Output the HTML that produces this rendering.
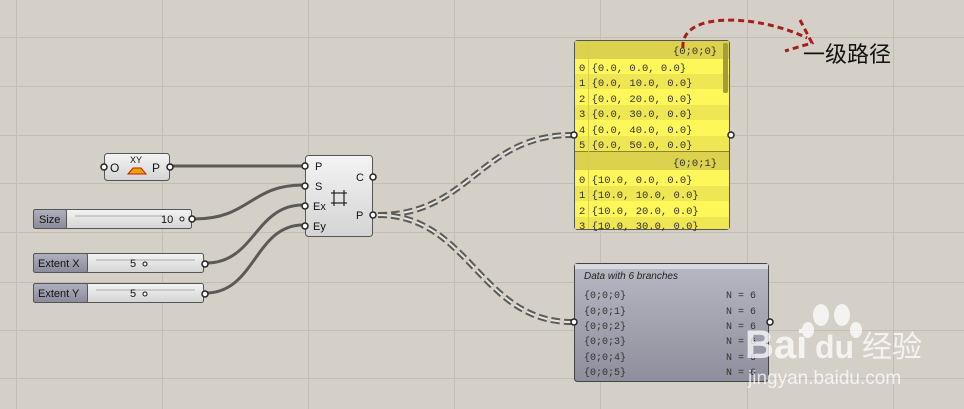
<!DOCTYPE html>
<html><head><meta charset="utf-8"><style>
html,body{margin:0;padding:0;width:964px;height:409px;overflow:hidden;background:#d4d0c8}
text{font-family:"Liberation Sans","Noto Sans CJK SC",sans-serif}
.m text{font-family:"Liberation Mono",monospace}
</style></head><body>
<svg width="964" height="409" viewBox="0 0 964 409" xmlns="http://www.w3.org/2000/svg">
<defs>
<linearGradient id="g1" x1="0" y1="0" x2="0" y2="1"><stop offset="0" stop-color="#f4f4f4"/><stop offset="1" stop-color="#d4d4d4"/></linearGradient>
<linearGradient id="g2" x1="0" y1="0" x2="0" y2="1"><stop offset="0" stop-color="#b8b8c4"/><stop offset="1" stop-color="#8e8e9c"/></linearGradient>
<linearGradient id="g3" x1="0" y1="0" x2="0" y2="1"><stop offset="0" stop-color="#b0b0be"/><stop offset="1" stop-color="#8a8a9a"/></linearGradient>
</defs>
<g stroke="#c2beb6" stroke-width="1">
<line x1="16.5" y1="0" x2="16.5" y2="409"/><line x1="162.5" y1="0" x2="162.5" y2="409"/><line x1="308.5" y1="0" x2="308.5" y2="409"/><line x1="454.5" y1="0" x2="454.5" y2="409"/><line x1="600.5" y1="0" x2="600.5" y2="409"/><line x1="747.5" y1="0" x2="747.5" y2="409"/><line x1="893.5" y1="0" x2="893.5" y2="409"/>
<line x1="0" y1="37.5" x2="964" y2="37.5"/><line x1="0" y1="86.5" x2="964" y2="86.5"/><line x1="0" y1="135.5" x2="964" y2="135.5"/><line x1="0" y1="183.5" x2="964" y2="183.5"/><line x1="0" y1="232.5" x2="964" y2="232.5"/><line x1="0" y1="282.5" x2="964" y2="282.5"/><line x1="0" y1="330.5" x2="964" y2="330.5"/><line x1="0" y1="378.5" x2="964" y2="378.5"/>
</g>
<!-- wires -->
<g fill="none" stroke="#5c5a56" stroke-width="3">
<line x1="170" y1="166" x2="303" y2="166"/>
<path d="M194 219 C250 219 250 185 303 185"/>
<path d="M206 263 C255 263 255 205 303 205"/>
<path d="M206 293 C255 293 255 225 303 225"/>
</g>
<g fill="none">
<path d="M378 215 C470 215 480 135 572 135" stroke="#5c5a56" stroke-width="6" stroke-dasharray="9 4"/>
<path d="M378 215 C470 215 480 135 572 135" stroke="#e8e6e2" stroke-width="2" stroke-dasharray="9 4"/>
<path d="M378 215 C470 215 480 322 572 322" stroke="#5c5a56" stroke-width="6" stroke-dasharray="9 4"/>
<path d="M378 215 C470 215 480 322 572 322" stroke="#e8e6e2" stroke-width="2" stroke-dasharray="9 4"/>
</g>
<!-- XY node -->
<rect x="104.5" y="153.5" width="65" height="27" rx="3" fill="url(#g1)" stroke="#555"/>
<circle cx="104" cy="167" r="3" fill="#fff" stroke="#222" stroke-width="1.5"/>
<circle cx="170" cy="167" r="3" fill="#fff" stroke="#222" stroke-width="1.5"/>
<text x="110" y="172" font-size="12" fill="#111">O</text>
<text x="130" y="163" font-size="9" fill="#111">XY</text>
<polygon points="128,174 133,168 141,168 146,174" fill="#f2a000" stroke="#c02000" stroke-width="1"/>
<text x="152" y="172" font-size="12" fill="#111">P</text>
<!-- Rectangle node -->
<rect x="305.5" y="155.5" width="67" height="81" rx="3" fill="url(#g1)" stroke="#555"/>
<g fill="#fff" stroke="#222" stroke-width="1.5">
<circle cx="305" cy="166" r="3"/><circle cx="305" cy="186" r="3"/><circle cx="305" cy="206" r="3"/><circle cx="305" cy="226" r="3"/>
<circle cx="373" cy="177" r="3"/><circle cx="373" cy="215" r="3"/>
</g>
<g font-size="11" fill="#111">
<text x="315" y="170">P</text><text x="315" y="190">S</text><text x="313" y="210">Ex</text><text x="313" y="230">Ey</text>
<text x="356" y="181">C</text><text x="356" y="219">P</text>
</g>
<g stroke="#222" stroke-width="1.2"><line x1="331" y1="193" x2="347" y2="193"/><line x1="331" y1="203" x2="347" y2="203"/><line x1="334" y1="190" x2="334" y2="206"/><line x1="344" y1="190" x2="344" y2="206"/></g>
<!-- sliders -->
<g>
<rect x="33.5" y="209.5" width="158" height="19" rx="2" fill="url(#g1)" stroke="#555"/>
<rect x="33.5" y="209.5" width="33" height="19" rx="2" fill="url(#g3)" stroke="#555"/>
<text x="39" y="223" font-size="11" fill="#111">Size</text>
<line x1="75" y1="216" x2="165" y2="216" stroke="#aaa"/>
<text x="161" y="223" font-size="11" fill="#111">10</text>
<circle cx="182" cy="219" r="2" fill="#fff" stroke="#111"/>
<circle cx="192" cy="219" r="3" fill="#fff" stroke="#222" stroke-width="1.5"/>
</g>
<g>
<rect x="33.5" y="253.5" width="170" height="19" rx="2" fill="url(#g1)" stroke="#555"/>
<rect x="33.5" y="253.5" width="54" height="19" rx="2" fill="url(#g3)" stroke="#555"/>
<text x="38" y="267" font-size="11" fill="#111">Extent X</text>
<line x1="96" y1="260" x2="195" y2="260" stroke="#aaa"/>
<text x="130" y="267" font-size="11" fill="#111">5</text>
<circle cx="145" cy="264" r="2" fill="#fff" stroke="#111"/>
<circle cx="205" cy="264" r="3" fill="#fff" stroke="#222" stroke-width="1.5"/>
</g>
<g>
<rect x="33.5" y="283.5" width="170" height="19" rx="2" fill="url(#g1)" stroke="#555"/>
<rect x="33.5" y="283.5" width="54" height="19" rx="2" fill="url(#g3)" stroke="#555"/>
<text x="38" y="297" font-size="11" fill="#111">Extent Y</text>
<line x1="96" y1="290" x2="195" y2="290" stroke="#aaa"/>
<text x="130" y="297" font-size="11" fill="#111">5</text>
<circle cx="145" cy="294" r="2" fill="#fff" stroke="#111"/>
<circle cx="205" cy="294" r="3" fill="#fff" stroke="#222" stroke-width="1.5"/>
</g>
<!-- yellow panel -->
<rect x="574.5" y="40.5" width="155" height="189" rx="3" fill="#fdf75a" stroke="#555"/>
<rect x="575" y="41" width="154" height="18" fill="#dcd24e"/>
<rect x="575" y="152" width="154" height="18" fill="#dcd24e"/>
<line x1="575" y1="151.5" x2="729" y2="151.5" stroke="#8a8630"/>
<g fill="#eee652"><rect x="575" y="74" width="154" height="15"/><rect x="575" y="105" width="154" height="15"/><rect x="575" y="136" width="154" height="15"/><rect x="575" y="186" width="154" height="15"/><rect x="575" y="217" width="154" height="12"/></g>
<line x1="588.5" y1="41" x2="588.5" y2="229" stroke="#d8cf48"/>
<rect x="723" y="43" width="5" height="50" rx="2" fill="#a39c3a"/>
<g class="m" font-size="10.5" fill="#333">
<text x="673" y="54">{0;0;0}</text>
<text x="579" y="71">0 {0.0, 0.0, 0.0}</text>
<text x="579" y="86">1 {0.0, 10.0, 0.0}</text>
<text x="579" y="102">2 {0.0, 20.0, 0.0}</text>
<text x="579" y="117">3 {0.0, 30.0, 0.0}</text>
<text x="579" y="133">4 {0.0, 40.0, 0.0}</text>
<text x="579" y="148">5 {0.0, 50.0, 0.0}</text>
<text x="673" y="166">{0;0;1}</text>
<text x="579" y="183">0 {10.0, 0.0, 0.0}</text>
<text x="579" y="198">1 {10.0, 10.0, 0.0}</text>
<text x="579" y="214">2 {10.0, 20.0, 0.0}</text>
<text x="579" y="229">3 {10.0, 30.0, 0.0}</text>
</g>
<circle cx="574" cy="135" r="3" fill="#fff" stroke="#222" stroke-width="1.5"/>
<circle cx="731" cy="135" r="3" fill="#fff" stroke="#222" stroke-width="1.5"/>
<!-- grey panel -->
<rect x="574.5" y="263.5" width="194" height="118" rx="3" fill="url(#g2)" stroke="#444"/>
<rect x="575" y="264" width="193" height="5" fill="#d8d8e0"/>
<text x="584" y="279" font-size="10" font-style="italic" fill="#222">Data with 6 branches</text>
<g class="m" font-size="10" fill="#333">
<text x="584" y="298">{0;0;0}</text><text x="726" y="298">N = 6</text>
<text x="584" y="314">{0;0;1}</text><text x="726" y="314">N = 6</text>
<text x="584" y="329">{0;0;2}</text><text x="726" y="329">N = 6</text>
<text x="584" y="344">{0;0;3}</text><text x="726" y="344">N = 6</text>
<text x="584" y="360">{0;0;4}</text><text x="726" y="360">N = 6</text>
<text x="584" y="375">{0;0;5}</text><text x="726" y="375">N = 6</text>
</g>
<circle cx="574" cy="322" r="3" fill="#fff" stroke="#222" stroke-width="1.5"/>
<circle cx="770" cy="322" r="3" fill="#fff" stroke="#222" stroke-width="1.5"/>
<!-- red arrow -->
<g fill="none" stroke="#a81c1c" stroke-width="3" stroke-dasharray="6 4">
<path d="M683 48 C680 10 760 15 807 38"/>
<path d="M800 20 L812 43 L785 51"/>
</g>
<text x="803" y="62" font-size="22" fill="#111">一级路径</text>
<!-- watermark -->
<g fill="#fff" opacity="0.75">
<ellipse cx="821" cy="315" rx="8" ry="11"/><ellipse cx="842" cy="315" rx="8" ry="11"/><ellipse cx="808" cy="330" rx="6" ry="8"/><ellipse cx="856" cy="330" rx="6" ry="8"/>
<text x="745" y="358" font-size="40" font-weight="bold">Bai</text>
<text x="815" y="358" font-size="32" font-weight="bold" fill="#fff">du</text>
<text x="862" y="357" font-size="30">经验</text>
<text x="748" y="384" font-size="19">jingyan.baidu.com</text>
</g>
</svg>
</body></html>
